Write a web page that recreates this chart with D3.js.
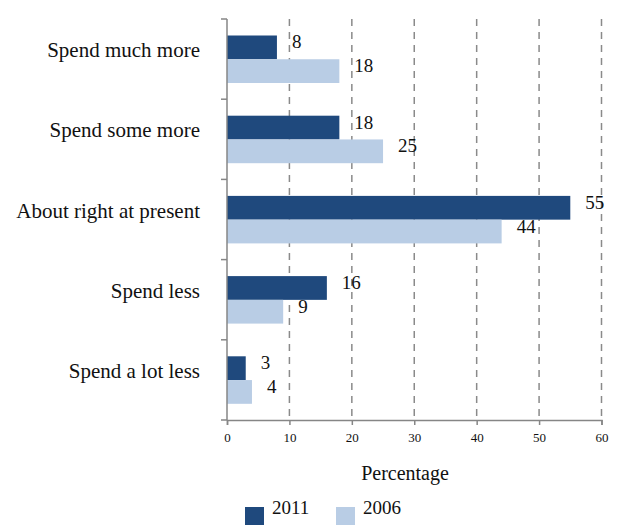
<!DOCTYPE html>
<html>
<head>
<meta charset="utf-8">
<script src="https://cdn.jsdelivr.net/npm/d3@7"></script>
<style>
  html, body { margin: 0; padding: 0; background: #fff; }
  svg { display: block; }
  text { font-family: "Liberation Serif", "Times New Roman", serif; fill: #111; }
</style>
</head>
<body>
<svg id="chart" width="620" height="525"></svg>
<script>
const categories = ["Spend much more", "Spend some more", "About right at present", "Spend less", "Spend a lot less"];
const seriesNames = ["2011", "2006"];
const values2011 = [8, 18, 55, 16, 3];
const values2006 = [18, 25, 44, 9, 4];
const xTicks = [0, 10, 20, 30, 40, 50, 60];
const xTitle = "Percentage";

const colors = { "2011": "#1F497D", "2006": "#B9CDE5" };
const seriesValues = { "2011": values2011, "2006": values2006 };
const serif = "'Liberation Serif', 'Times New Roman', serif";

const svg = d3.select("#chart");
const plotLeft = 227, plotRight = 601.5, plotTop = 19, plotBottom = 420;

const x = d3.scaleLinear().domain([0, 60]).range([plotLeft, plotRight]);
const y = d3.scaleBand().domain(categories).range([plotTop, plotBottom]).padding(0);
const y1 = d3.scaleBand().domain(seriesNames).range([16.5, 64]).padding(0);

// gridlines
svg.append("g").selectAll("line")
  .data(xTicks.filter(t => t > 0))
  .join("line")
  .attr("x1", d => x(d)).attr("x2", d => x(d))
  .attr("y1", plotTop).attr("y2", plotBottom)
  .attr("stroke", "#8a8a8a")
  .attr("stroke-width", 1.5)
  .attr("stroke-dasharray", "7,6");

// bars
const groups = svg.append("g").selectAll("g")
  .data(categories)
  .join("g")
  .attr("transform", d => `translate(0,${y(d)})`);

seriesNames.forEach(s => {
  groups.append("rect")
    .attr("x", x(0))
    .attr("y", y1(s))
    .attr("width", (d, i) => x(seriesValues[s][i]) - x(0))
    .attr("height", y1.bandwidth())
    .attr("fill", colors[s]);
  groups.append("text")
    .attr("x", (d, i) => x(seriesValues[s][i]) + 15)
    .attr("y", y1(s) + y1.bandwidth() / 2 + 1)
    .attr("font-family", serif)
    .attr("font-size", 19)
    .text((d, i) => seriesValues[s][i]);
});

// x axis
const xAxis = d3.axisBottom(x).tickValues(xTicks).tickSize(5).tickPadding(8);
const gx = svg.append("g").attr("transform", `translate(0,${plotBottom})`).call(xAxis);
gx.select(".domain").attr("stroke", "#868686").attr("stroke-width", 1.5);
gx.selectAll(".tick line").attr("stroke", "#868686").attr("stroke-width", 1.5);
gx.selectAll(".tick text").attr("font-size", 13).attr("font-family", serif).attr("fill", "#111");

// y axis
svg.append("line")
  .attr("x1", plotLeft).attr("x2", plotLeft).attr("y1", plotTop).attr("y2", plotBottom)
  .attr("stroke", "#868686").attr("stroke-width", 1.5);
const boundaries = categories.map(c => y(c)).concat([plotBottom]);
svg.append("g").selectAll("line")
  .data(boundaries)
  .join("line")
  .attr("x1", plotLeft - 6).attr("x2", plotLeft)
  .attr("y1", d => d).attr("y2", d => d)
  .attr("stroke", "#868686").attr("stroke-width", 1.5);

svg.append("g").selectAll("text")
  .data(categories)
  .join("text")
  .attr("x", 200)
  .attr("y", d => y(d) + y.bandwidth() / 2 - 2)
  .attr("text-anchor", "end")
  .attr("font-family", serif)
  .attr("font-size", 21)
  .text(d => d);

// x title
svg.append("text")
  .attr("x", 405).attr("y", 480)
  .attr("text-anchor", "middle")
  .attr("font-family", serif)
  .attr("font-size", 20)
  .text(xTitle);

// legend
const legendItems = [{ name: "2011", x: 245 }, { name: "2006", x: 336 }];
const lg = svg.append("g").selectAll("g").data(legendItems).join("g")
  .attr("transform", d => `translate(${d.x},0)`);
lg.append("rect").attr("x", 0).attr("y", 507).attr("width", 19).attr("height", 19)
  .attr("fill", d => colors[d.name]);
lg.append("text").attr("x", 27).attr("y", 514).attr("font-family", serif).attr("font-size", 19).text(d => d.name);
</script>
</body>
</html>
